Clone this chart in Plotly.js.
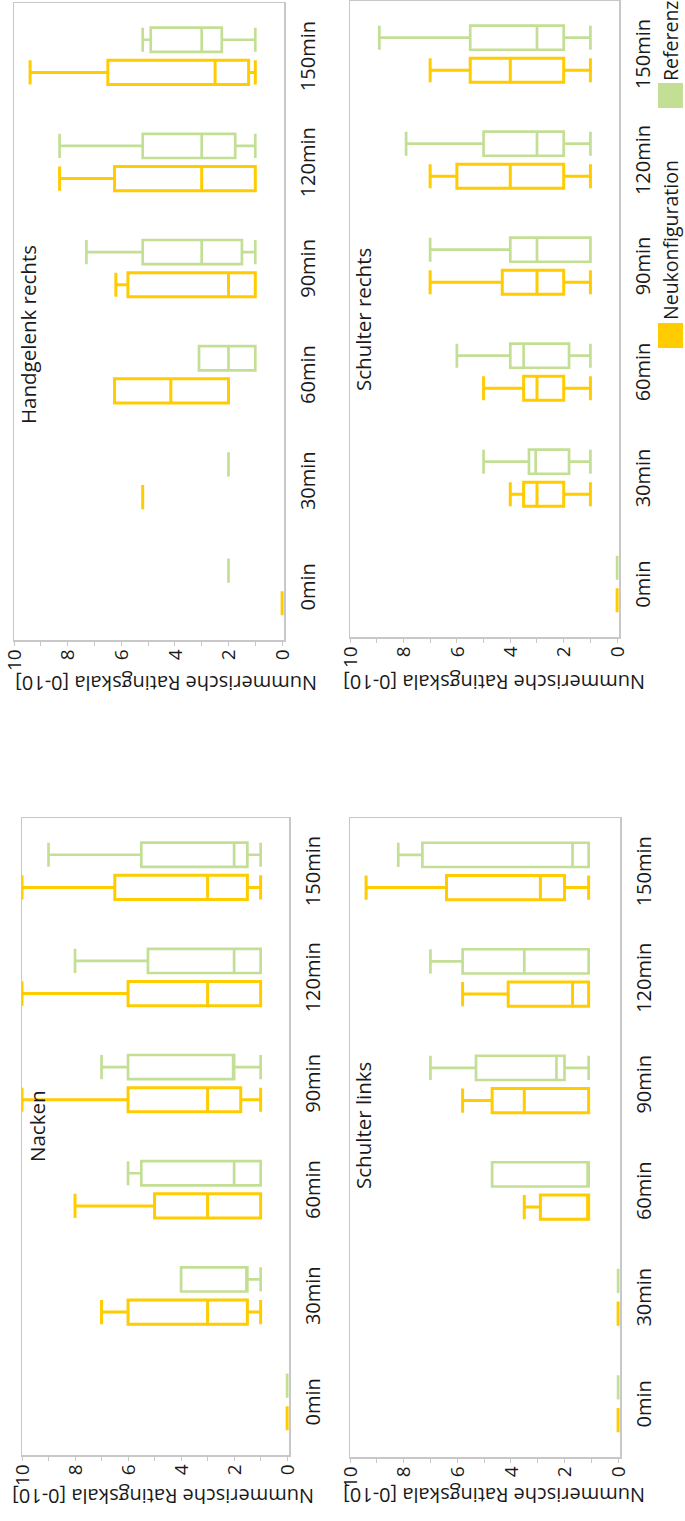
<!DOCTYPE html>
<html><head><meta charset="utf-8">
<script src="https://cdn.plot.ly/plotly-3.0.1.min.js"></script>
<style>
html,body{margin:0;padding:0;width:685px;height:1521px;overflow:hidden;background:#fff;}
#wrap{position:absolute;left:0;top:0;width:1521px;height:685px;transform-origin:0 0;transform:translate(0px,1521px) rotate(-90deg);}
#chart{width:1521px;height:685px;}
</style></head><body><div id="wrap"><div id="chart"></div></div>
<script>
// Categories and series
const categories = ['0min','30min','60min','90min','120min','150min'];
const seriesNames = ['Neukonfiguration','Referenz'];
const panelTitles = ['Nacken','Handgelenk rechts','Schulter links','Schulter rechts'];
const yTitle = 'Nummerische Ratingskala [0-10]';

// Nacken
const nackenNeuMin = [0, 1, 1, 1, 1, 1];
const nackenNeuQ1  = [0, 1.5, 1, 1.75, 1, 1.5];
const nackenNeuMed = [0, 3, 3, 3, 3, 3];
const nackenNeuQ3  = [0, 6, 5, 6, 6, 6.5];
const nackenNeuMax = [0, 7, 8, 10, 10, 10];
const nackenRefMin = [0, 1, 1, 1, 1, 1];
const nackenRefQ1  = [0, 1.5, 1, 2, 1, 1.5];
const nackenRefMed = [0, 1.5, 2, 2, 2, 2];
const nackenRefQ3  = [0, 4, 5.5, 6, 5.25, 5.5];
const nackenRefMax = [0, 4, 6, 7, 8, 9];

// Handgelenk rechts
const handNeuMin = [0, 5.2, 2, 1, 1, 1];
const handNeuQ1  = [0, 5.2, 2, 1, 1, 1.25];
const handNeuMed = [0, 5.2, 4.15, 2, 3, 2.5];
const handNeuQ3  = [0, 5.2, 6.25, 5.75, 6.25, 6.5];
const handNeuMax = [0, 5.2, 6.25, 6.2, 8.3, 9.4];
const handRefMin = [2, 2, 1, 1, 1, 1];
const handRefQ1  = [2, 2, 1, 1.5, 1.75, 2.25];
const handRefMed = [2, 2, 2, 3, 3, 3];
const handRefQ3  = [2, 2, 3.1, 5.2, 5.2, 4.9];
const handRefMax = [2, 2, 3.1, 7.3, 8.3, 5.2];

// Schulter links
const slNeuMin = [0, 0, 1.1, 1.1, 1.1, 1.1];
const slNeuQ1  = [0, 0, 1.1, 1.1, 1.1, 2.0];
const slNeuMed = [0, 0, 1.1, 3.5, 1.7, 2.9];
const slNeuQ3  = [0, 0, 2.9, 4.7, 4.1, 6.4];
const slNeuMax = [0, 0, 3.5, 5.8, 5.8, 9.4];
const slRefMin = [0, 0, 1.1, 1.1, 1.1, 1.1];
const slRefQ1  = [0, 0, 1.1, 2.0, 1.1, 1.1];
const slRefMed = [0, 0, 1.1, 2.3, 3.5, 1.7];
const slRefQ3  = [0, 0, 4.7, 5.3, 5.8, 7.3];
const slRefMax = [0, 0, 4.7, 7.0, 7.0, 8.2];

// Schulter rechts
const srNeuMin = [0, 1, 1, 1, 1, 1];
const srNeuQ1  = [0, 2, 2, 2, 2, 2];
const srNeuMed = [0, 3, 3, 3, 4, 4];
const srNeuQ3  = [0, 3.5, 3.5, 4.3, 6, 5.5];
const srNeuMax = [0, 4, 5, 7, 7, 7];
const srRefMin = [0, 1, 1, 1, 1, 1];
const srRefQ1  = [0, 1.8, 1.8, 1, 2, 2];
const srRefMed = [0, 3.05, 3.5, 3, 3, 3];
const srRefQ3  = [0, 3.3, 4, 4, 5, 5.5];
const srRefMax = [0, 5, 6, 7, 7.9, 8.9];

const YELLOW = '#FFCC00';
const GREEN = '#C3DF96';
const TEXT = '#1a1a1a';
const FRAME = '#C8C8C8';
const FONT = 'Open Sans, Noto Sans, sans-serif';

function box(ax, name, color, lo, q1, med, q3, hi, w) {
  return {
    type: 'box', name: name, x: categories,
    lowerfence: lo, q1: q1, median: med, q3: q3, upperfence: hi,
    xaxis: 'x' + ax, yaxis: 'y' + ax,
    alignmentgroup: 'panel' + ax, offsetgroup: name,
    line: {color: color, width: w}, fillcolor: 'rgba(255,255,255,0)',
    whiskerwidth: 1, boxpoints: false, showlegend: false, hoverinfo: 'skip'
  };
}

const data = [
  box('', seriesNames[0], YELLOW, nackenNeuMin, nackenNeuQ1, nackenNeuMed, nackenNeuQ3, nackenNeuMax, 3),
  box('', seriesNames[1], GREEN, nackenRefMin, nackenRefQ1, nackenRefMed, nackenRefQ3, nackenRefMax, 2.7),
  box('2', seriesNames[0], YELLOW, handNeuMin, handNeuQ1, handNeuMed, handNeuQ3, handNeuMax, 3),
  box('2', seriesNames[1], GREEN, handRefMin, handRefQ1, handRefMed, handRefQ3, handRefMax, 2.7),
  box('3', seriesNames[0], YELLOW, slNeuMin, slNeuQ1, slNeuMed, slNeuQ3, slNeuMax, 3),
  box('3', seriesNames[1], GREEN, slRefMin, slRefQ1, slRefMed, slRefQ3, slRefMax, 2.7),
  box('4', seriesNames[0], YELLOW, srNeuMin, srNeuQ1, srNeuMed, srNeuQ3, srNeuMax, 3),
  box('4', seriesNames[1], GREEN, srRefMin, srRefQ1, srRefMed, srRefQ3, srRefMax, 2.7)
];

const W = 1521, H = 685;
function xa(x0, x1, anchor) {
  return {
    domain: [x0 / W, x1 / W], anchor: anchor, type: 'category', categoryorder: 'array', categoryarray: categories,
    showline: true, mirror: true, linecolor: FRAME, linewidth: 1.5,
    ticks: '', showgrid: false, zeroline: false, fixedrange: true, automargin: false,
    tickfont: {size: 20, color: TEXT, family: FONT}, ticklabelstandoff: 5, tickangle: 0
  };
}
function ya(y0, y1, anchor) {
  return {
    domain: [1 - y1 / H, 1 - y0 / H], anchor: anchor, range: [-0.07, 10], tick0: 0, dtick: 2,
    ticks: 'outside', ticklen: 4, tickcolor: FRAME, tickwidth: 1,
    minor: {dtick: 1, ticks: 'outside', ticklen: 4, tickcolor: FRAME, tickwidth: 1, showgrid: false},
    showline: true, mirror: true, linecolor: FRAME, linewidth: 1.5, automargin: false,
    showgrid: false, zeroline: false, fixedrange: true,
    tickfont: {size: 19, color: TEXT, family: FONT}
  };
}

function ann(text, xc, yc, xanchor, yanchor, size, angle) {
  return {text: text, xref: 'paper', yref: 'paper', x: xc / W, y: 1 - yc / H,
    xanchor: xanchor, yanchor: yanchor, showarrow: false, textangle: angle || 0,
    font: {size: size, color: TEXT, family: FONT}};
}

const layout = {
  width: W, height: H, margin: {l: 0, r: 0, t: 0, b: 0},
  paper_bgcolor: '#fff', plot_bgcolor: '#fff',
  font: {family: FONT, color: TEXT},
  boxmode: 'group', boxgap: 0.385, boxgroupgap: 0.26,
  showlegend: false,
  xaxis: xa(66, 703, 'y'), yaxis: ya(22, 289, 'x'),
  xaxis2: xa(881, 1518, 'y2'), yaxis2: ya(14, 284, 'x2'),
  xaxis3: xa(64, 703, 'y3'), yaxis3: ya(350, 620, 'x3'),
  xaxis4: xa(884, 1520, 'y4'), yaxis4: ya(350, 619, 'x4'),
  annotations: [
    ann(panelTitles[0], 395, 21, 'center', 'top', 20.5),
    ann(panelTitles[1], 1186, 12, 'center', 'top', 20.5),
    ann(panelTitles[2], 395, 347, 'center', 'top', 20.5),
    ann(panelTitles[3], 1201, 347, 'center', 'top', 20.5),
    ann(yTitle, 25, 163, 'center', 'middle', 20, -90),
    ann(yTitle, 838, 166, 'center', 'middle', 20, -90),
    ann(yTitle, 25, 494, 'center', 'middle', 20, -90),
    ann(yTitle, 838, 494, 'center', 'middle', 20, -90),
    ann(seriesNames[0], 1199, 670.5, 'left', 'middle', 19.5),
    ann(seriesNames[1], 1438, 670.5, 'left', 'middle', 19.5)
  ],
  shapes: [
    {type: 'rect', xref: 'paper', yref: 'paper', x0: 1173 / W, x1: 1198 / W, y0: 1 - 683 / H, y1: 1 - 658 / H,
      fillcolor: YELLOW, line: {width: 0}},
    {type: 'rect', xref: 'paper', yref: 'paper', x0: 1413 / W, x1: 1438 / W, y0: 1 - 683 / H, y1: 1 - 658 / H,
      fillcolor: GREEN, line: {width: 0}}
  ]
};

Plotly.newPlot('chart', data, layout, {displayModeBar: false, staticPlot: true});
</script>
</body></html>
